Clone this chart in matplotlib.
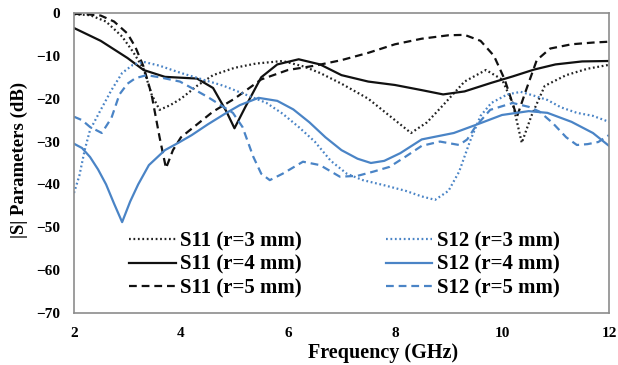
import numpy as np
import matplotlib
matplotlib.use('Agg')
import matplotlib.pyplot as plt

plt.rcParams['font.family'] = ['Liberation Serif', 'DejaVu Serif']
plt.rcParams['font.weight'] = 'bold'

# S11, r=3 mm (black dotted)
f_s11_3 = [2.0, 2.3, 2.6, 2.9, 3.1, 3.3, 3.45, 3.6, 3.8, 4.0, 4.3, 4.6, 5.0, 5.4, 5.9, 6.3, 6.6,
           7.0, 7.5, 7.9, 8.3, 8.6, 8.9, 9.3, 9.7, 10.0, 10.2, 10.37, 10.55, 10.8, 11.2, 11.6, 12.0]
s11_3 = [-0.3, -0.5, -2, -5.5, -9, -13, -19, -22.6, -21.5, -20, -17, -14.5, -12.8, -11.8, -11.2, -12.5, -14,
         -16.5, -20, -24, -28, -25.5, -21.5, -16, -13.3, -15.5, -21, -30.3, -24, -17, -14.5, -13, -12.1]

# S11, r=4 mm (black solid)
f_s11_4 = [2.0, 2.5, 3.0, 3.3, 3.7, 4.3, 4.6, 4.85, 5.0, 5.2, 5.5, 5.8, 6.2, 6.6, 7.0, 7.5, 8.0,
           8.5, 8.9, 9.3, 9.8, 10.2, 10.6, 11.0, 11.5, 12.0]
s11_4 = [-3.5, -6.5, -10.5, -13.3, -14.9, -15.3, -17.5, -23, -26.9, -22, -15, -12, -10.8, -12, -14.5, -16, -16.8,
         -18, -19, -18.3, -16.3, -14.8, -13.2, -12, -11.3, -11.2]

# S11, r=5 mm (black dashed)
f_s11_5 = [2.0, 2.25, 2.5, 2.75, 3.0, 3.15, 3.3, 3.45, 3.6, 3.72, 3.85, 4.0, 4.3, 4.6, 5.0, 5.5, 6.0,
           6.5, 7.0, 7.5, 8.0, 8.5, 9.0, 9.3, 9.6, 9.85, 10.05, 10.28, 10.45, 10.65, 10.9, 11.3, 11.7, 12.0]
s11_5 = [-0.2, -0.3, -0.6, -2, -4.8, -8, -12.5, -19, -29, -36.2, -32, -29, -26, -23, -20, -15.5, -13.3,
         -12.3, -11, -9.3, -7.3, -6, -5.2, -5.1, -6.5, -10, -15.5, -24.2, -18, -11, -8.3, -7.3, -6.9, -6.7]

# S12, r=3 mm (blue dotted)
f_s12_3 = [2.0, 2.1, 2.2, 2.3, 2.5, 2.7, 2.9, 3.1, 3.3, 3.6, 4.0, 4.4, 4.8, 5.2, 5.6, 5.9, 6.2, 6.5,
           6.8, 7.1, 7.4, 7.8, 8.2, 8.5, 8.75, 9.0, 9.2, 9.4, 9.6, 9.8, 10.1, 10.35, 10.6, 10.85, 11.1,
           11.4, 11.7, 12.0]
s12_3 = [-42, -38, -32, -27.3, -22.6, -18, -14, -12.1, -11.4, -12.3, -14, -15.5, -17, -19, -21, -23.5, -26.6, -30,
         -34.5, -37.5, -39, -40.2, -41.5, -42.8, -43.6, -41.5, -37, -30, -24, -21, -19, -18.4, -19.3, -20.3, -22,
         -23.3, -24, -25.4]

# S12, r=4 mm (blue solid)
f_s12_4 = [2.0, 2.15, 2.3, 2.45, 2.6, 2.75, 2.9, 3.05, 3.2, 3.4, 3.7, 3.95, 4.2, 4.5, 4.85, 5.1, 5.45,
           5.8, 6.1, 6.4, 6.7, 7.0, 7.3, 7.55, 7.8, 8.1, 8.5, 9.1, 9.6, 10.0, 10.5, 10.85, 11.3, 11.7, 12.0]
s12_4 = [-30.5, -31.5, -33.6, -36.5, -40, -44.5, -48.8, -44, -40, -35.5, -32, -30.3, -28.5, -26, -23.3, -21.5, -19.8,
         -20.5, -22.5, -25.5, -29, -32, -34, -35, -34.5, -32.7, -29.5, -28, -25.7, -23.8, -22.9, -23.3, -25.4, -28, -31]

# S12, r=5 mm (blue dashed)
f_s12_5 = [2.0, 2.15, 2.3, 2.52, 2.7, 2.85, 3.0, 3.15, 3.36, 3.6, 3.98, 4.2, 4.5, 4.97, 5.15, 5.35, 5.5,
           5.66, 5.9, 6.28, 6.6, 6.97, 7.3, 7.6, 7.9, 8.2, 8.5, 8.84, 9.2, 9.35, 9.5, 9.78, 10.2, 10.5,
           10.7, 10.95, 11.2, 11.4, 11.6, 11.8, 12.0]
s12_5 = [-24.2, -25, -26.6, -28, -24.5, -19, -16.5, -15.2, -14.5, -15, -16, -17.5, -19.6, -23.3, -26.6, -33.5, -37.5,
         -39, -37.5, -34.7, -35.5, -38.2, -38, -37, -35.9, -33.5, -31, -30, -30.8, -29.5, -26.6, -22.6, -21, -21.9,
         -23, -25.7, -29, -30.8, -30.6, -30.1, -28.5]

blue = '#4a84c6'

fig = plt.figure(figsize=(6.18, 3.65), dpi=100)
ax = fig.add_axes([0.1197, 0.1425, 0.8657, 0.8219])

ax.plot(f_s11_3, s11_3, color='#222222', lw=1.6, ls=(0, (0.8, 1.2)), label='S11 (r=3 mm)')
ax.plot(f_s11_4, s11_4, color='#111111', lw=1.6, ls='-', label='S11 (r=4 mm)')
ax.plot(f_s11_5, s11_5, color='#111111', lw=1.6, ls=(0, (3.5, 2.2)), label='S11 (r=5 mm)')
ax.plot(f_s12_3, s12_3, color=blue, lw=1.6, ls=(0, (0.8, 1.2)), label='S12 (r=3 mm)')
ax.plot(f_s12_4, s12_4, color=blue, lw=1.6, ls='-', label='S12 (r=4 mm)')
ax.plot(f_s12_5, s12_5, color=blue, lw=1.6, ls=(0, (3.5, 2.2)), label='S12 (r=5 mm)')

ax.set_xlim(2, 12)
ax.set_ylim(-70, 0)
ax.set_xticks(np.arange(2, 13, 2))
ax.set_yticks(np.arange(-70, 1, 10))
ax.tick_params(length=0, labelsize=11, pad=10)
for sp in ax.spines.values():
    sp.set_color('#8c8c8c')
    sp.set_linewidth(1.2)

ax.set_xlabel('Frequency (GHz)', fontsize=14.5, fontweight='bold')
ax.xaxis.set_label_coords(0.578, -0.1)
ax.set_ylabel('|S| Parameters (dB)', fontsize=13.5, fontweight='bold')
ax.yaxis.set_label_coords(-0.085, 0.51)

ax.legend(ncol=2, frameon=False, loc='lower left', bbox_to_anchor=(0.088, 0.02),
          prop={'size': 15, 'weight': 'bold'}, handlelength=2.25, handletextpad=0.2,
          columnspacing=4.0, labelspacing=0.18, borderaxespad=0)

plt.savefig('out.png', dpi=100)
